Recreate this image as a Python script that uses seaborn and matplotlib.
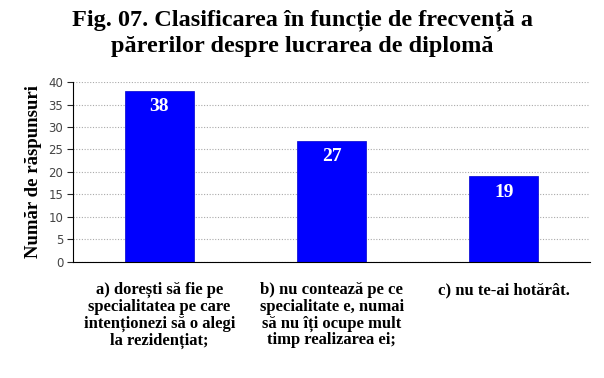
import numpy as np
import pandas as pd
import seaborn as sns
import matplotlib.pyplot as plt

categories = ['a) dorești să fie pe\nspecialitatea pe care\nintenționezi să o alegi\nla rezidențiat;',
              'b) nu contează pe ce\nspecialitate e, numai\nsă nu îți ocupe mult\ntimp realizarea ei;',
              'c) nu te-ai hotărât.']
values = [38, 27, 19]
title = 'Fig. 07. Clasificarea în funcție de frecvență a\npărerilor despre lucrarea de diplomă'
ylabel = 'Număr de răspunsuri'

df = pd.DataFrame({'cat': categories, 'val': values})

sns.set_style('white')
plt.rcParams['font.family'] = ['Liberation Serif', 'DejaVu Serif']
plt.rcParams['text.color'] = 'black'

fig = plt.figure(figsize=(6.04, 3.78), dpi=100)
ax = fig.add_axes([0.121, 0.307, 0.856, 0.476])
sns.barplot(data=df, x='cat', y='val', color='#0000ff', width=0.4, ax=ax,
            edgecolor='#0000cc', linewidth=0.5, saturation=1)

ax.set_ylim(0, 40)
ax.set_yticks(range(0, 41, 5))
ax.yaxis.grid(True, color='#aaaaaa', linestyle=(0, (1, 1.5)), linewidth=0.8)
ax.set_axisbelow(True)
for s in ['top', 'right']:
    ax.spines[s].set_visible(False)
ax.spines['left'].set_color('black')
ax.spines['bottom'].set_color('black')
ax.tick_params(axis='y', left=True, length=4, width=0.8, labelsize=8.5, labelcolor='#444444', pad=3)
for t in ax.get_yticklabels():
    t.set_fontfamily('DejaVu Sans')
ax.tick_params(axis='x', bottom=False, labelsize=12, labelcolor='black', pad=11)
for t in ax.get_xticklabels():
    t.set_fontweight('bold')
    t.set_linespacing(1.05)
ax.set_xlabel('')
ax.set_ylabel(ylabel, fontsize=13.5, fontweight='bold', color='black', labelpad=5)

for p, v in zip(ax.patches, values):
    ax.text(p.get_x() + p.get_width() / 2, p.get_height() - 1.6, str(v), ha='center', va='top',
            color='white', fontsize=14, fontweight='bold')

fig.suptitle(title, fontsize=17.5, fontweight='bold', color='black', y=0.975, linespacing=1.3)
fig.savefig('out.png', dpi=100, facecolor='white')
